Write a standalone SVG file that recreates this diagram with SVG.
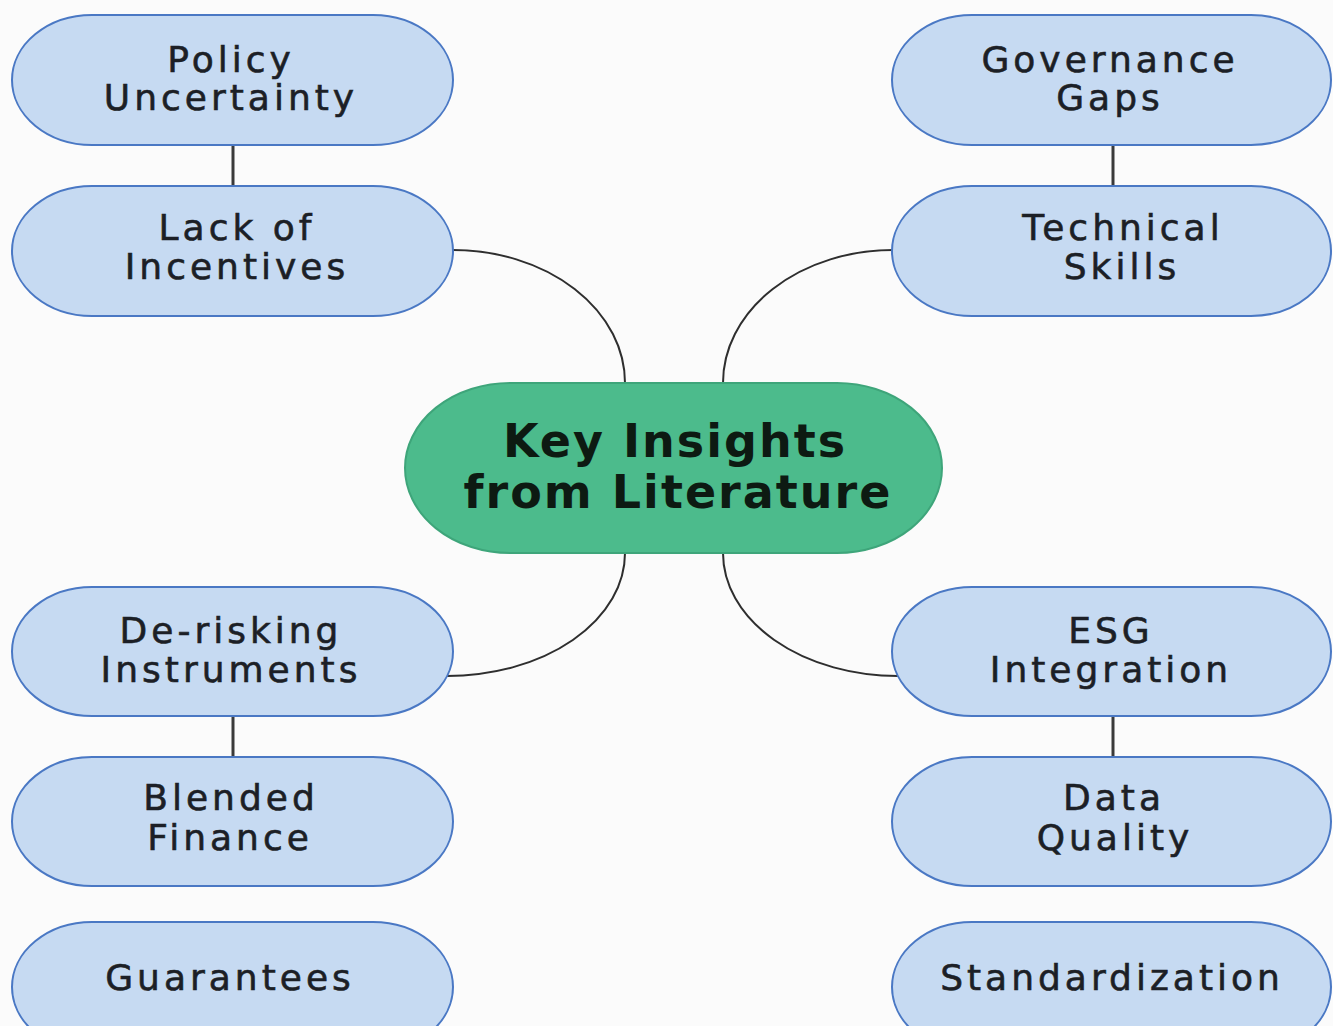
<svg xmlns="http://www.w3.org/2000/svg" width="1333" height="1026" viewBox="0 0 1333 1026">
  <style>
    .bg { fill: #fbfbfb; }
    .node rect { fill: #c6daf2; stroke: #4a78c4; stroke-width: 2; }
    .node text { font-family: "DejaVu Sans", "Liberation Sans", sans-serif; font-size: 36px; letter-spacing: 4px; fill: #1c1f26; stroke: #1c1f26; stroke-width: 0.6; text-anchor: middle; }
    .hub rect { fill: #4cbb8c; stroke: #3ea57a; stroke-width: 2; }
    .hub text { font-family: "DejaVu Sans", "Liberation Sans", sans-serif; font-size: 46px; font-weight: bold; letter-spacing: 2px; fill: #0d1a12; text-anchor: middle; }
    .link { fill: none; stroke: #2e2e2e; stroke-width: 2; }
    .stem { fill: none; stroke: #3a3a3a; stroke-width: 3; }
  </style>
  <rect class="bg" x="0" y="0" width="1333" height="1026"/>

  <g id="connectors">
    <path class="link" d="M453,250 A172,133 0 0 1 625,383"/>
    <path class="link" d="M893,250 A170,133 0 0 0 723,383"/>
    <path class="link" d="M625,553 A178,123 0 0 1 447,676"/>
    <path class="link" d="M723,553 A175,123 0 0 0 898,676"/>
    <line class="stem" x1="233" y1="145" x2="233" y2="186"/>
    <line class="stem" x1="1113" y1="145" x2="1113" y2="186"/>
    <line class="stem" x1="233" y1="716" x2="233" y2="757"/>
    <line class="stem" x1="1113" y1="716" x2="1113" y2="757"/>
  </g>

  <g id="hub" class="hub">
    <rect x="405" y="383" width="537" height="170" rx="105" ry="85"/>
    <text x="675" y="457">Key Insights</text>
    <text x="678" y="508">from Literature</text>
  </g>

  <g id="policy-uncertainty" class="node">
    <rect x="12" y="15" width="441" height="130" rx="80" ry="65"/>
    <text x="231" y="72">Policy</text>
    <text x="231" y="110">Uncertainty</text>
  </g>
  <g id="lack-of-incentives" class="node">
    <rect x="12" y="186" width="441" height="130" rx="80" ry="65"/>
    <text x="237" y="240">Lack of</text>
    <text x="237" y="279">Incentives</text>
  </g>
  <g id="governance-gaps" class="node">
    <rect x="892" y="15" width="439" height="130" rx="80" ry="65"/>
    <text x="1110" y="72">Governance</text>
    <text x="1110" y="110">Gaps</text>
  </g>
  <g id="technical-skills" class="node">
    <rect x="892" y="186" width="439" height="130" rx="80" ry="65"/>
    <text x="1123" y="240">Technical</text>
    <text x="1122" y="279">Skills</text>
  </g>
  <g id="de-risking-instruments" class="node">
    <rect x="12" y="587" width="441" height="129" rx="80" ry="65"/>
    <text x="231" y="643">De-risking</text>
    <text x="231" y="682">Instruments</text>
  </g>
  <g id="blended-finance" class="node">
    <rect x="12" y="757" width="441" height="129" rx="80" ry="65"/>
    <text x="231" y="810">Blended</text>
    <text x="230" y="850">Finance</text>
  </g>
  <g id="guarantees" class="node">
    <rect x="12" y="922" width="441" height="130" rx="80" ry="65"/>
    <text x="230" y="990">Guarantees</text>
  </g>
  <g id="esg-integration" class="node">
    <rect x="892" y="587" width="439" height="129" rx="80" ry="65"/>
    <text x="1111" y="643">ESG</text>
    <text x="1111" y="682">Integration</text>
  </g>
  <g id="data-quality" class="node">
    <rect x="892" y="757" width="439" height="129" rx="80" ry="65"/>
    <text x="1114" y="810">Data</text>
    <text x="1115" y="850">Quality</text>
  </g>
  <g id="standardization" class="node">
    <rect x="892" y="922" width="439" height="130" rx="80" ry="65"/>
    <text x="1112" y="990">Standardization</text>
  </g>
</svg>
